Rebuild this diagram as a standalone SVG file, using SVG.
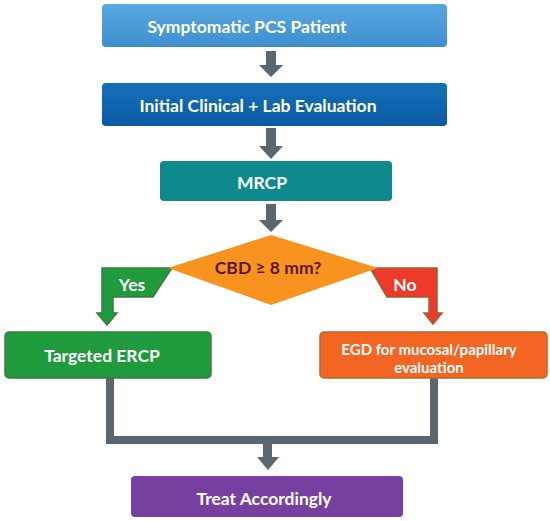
<svg xmlns="http://www.w3.org/2000/svg" width="550" height="521" viewBox="0 0 550 521">
<defs>
<linearGradient id="gBlue" x1="0" y1="0" x2="0" y2="1"><stop offset="0" stop-color="#5aa8e0"/><stop offset="1" stop-color="#3f8fd0"/></linearGradient>
<linearGradient id="gNavy" x1="0" y1="0" x2="0" y2="1"><stop offset="0" stop-color="#1470b8"/><stop offset="1" stop-color="#0b5aa2"/></linearGradient>
<style>
.t{font-family:Lato,"Liberation Sans",sans-serif;font-weight:bold;fill:#fff;text-anchor:middle;dominant-baseline:central}
.arrow{fill:#5b6670}
.conn{fill:none;stroke:#5b6670;stroke-width:8}
</style>
</defs>
<rect width="550" height="521" fill="#fff"/>
<g id="connectors">
<path class="arrow" d="M266,51h10v14h7l-12,12l-12,-12h7z"/>
<path class="arrow" d="M266,128h10v18h7l-12,13l-12,-13h7z"/>
<path class="arrow" d="M266,204h10v16h7l-12,12l-12,-12h7z"/>
<path class="conn" d="M110,378V440H434V378"/>
<path class="arrow" d="M263,440h9v17h7l-11,13l-11,-13h6z"/>
<g id="yes-flag">
<path d="M102,268H172L153,297H113V313H117L107,325L97,313H102Z" fill="#1f9a3d" stroke="#3e7a3a" stroke-width="1.5"/>
<text class="t" x="132" y="284" font-size="17.5">Yes</text>
</g>
<g id="no-flag">
<path d="M370,268H437V313H442L433,324L424,313H429V297H387Z" fill="#ee3a2b" stroke="#9a6030" stroke-width="1.5"/>
<text class="t" x="405" y="284" font-size="17.5">No</text>
</g>
</g>
<g id="n1">
<rect x="102" y="4" width="345" height="43" rx="4" fill="url(#gBlue)"/>
<text class="t" x="247" y="26" font-size="17.5">Symptomatic PCS Patient</text>
</g>
<g id="n2">
<rect x="102" y="83" width="345" height="43" rx="4" fill="url(#gNavy)"/>
<text class="t" x="258" y="105" font-size="17.5">Initial Clinical + Lab Evaluation</text>
</g>
<g id="n3">
<rect x="160" y="161" width="232" height="40" rx="4" fill="#0f8a8c"/>
<text class="t" x="262" y="182" font-size="17.5">MRCP</text>
</g>
<g id="n4">
<path d="M271,235L378,268L271,305L168,268Z" fill="#f7931e"/>
<text class="t" x="268" y="267" font-size="17.5" style="fill:#5a1620">CBD ≥ 8 mm?</text>
</g>
<g id="n5">
<rect x="5" y="332" width="206" height="46" rx="4" fill="#1f9a3d" stroke="#3e7a3a" stroke-width="1.5"/>
<text class="t" x="102" y="355" font-size="17.5">Targeted ERCP</text>
</g>
<g id="n6">
<rect x="320" y="332" width="227" height="46" rx="4" fill="#f26522" stroke="#b8682a" stroke-width="1.5"/>
<text class="t" x="429" y="349" font-size="15">EGD for mucosal/papillary</text>
<text class="t" x="429" y="367" font-size="15">evaluation</text>
</g>
<g id="n7">
<rect x="131" y="476" width="272" height="41" rx="4" fill="#7740a0"/>
<text class="t" x="264" y="498" font-size="17.5">Treat Accordingly</text>
</g>
</svg>
